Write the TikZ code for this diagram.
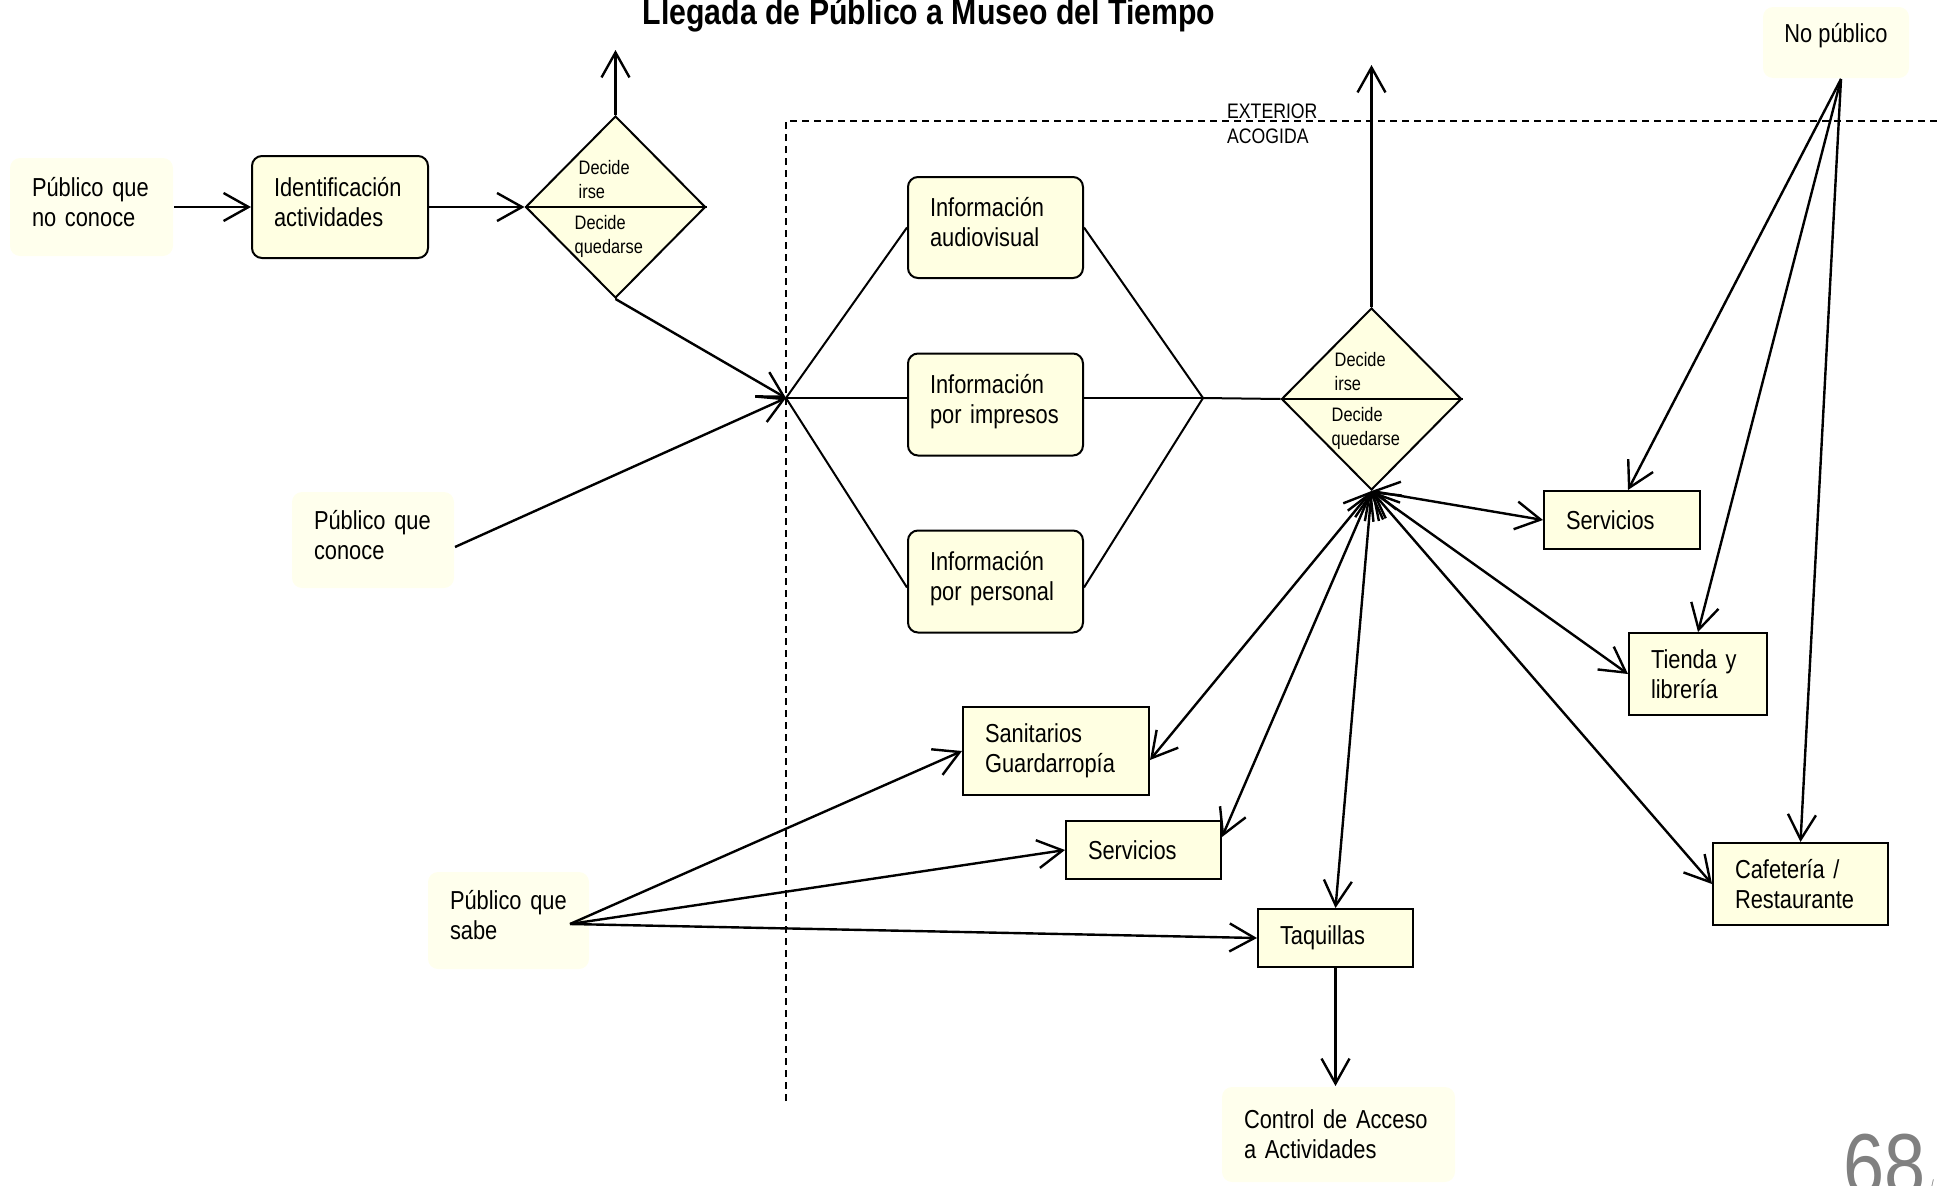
\documentclass[tikz,border=0pt]{standalone}
\usepackage{fontspec}
\setmainfont[FakeStretch=0.84]{Liberation Sans}
\usetikzlibrary{shapes.geometric,arrows.meta,calc}
\definecolor{boxfill}{RGB}{255,255,226}
\definecolor{palefill}{RGB}{255,255,237}
\tikzset{
box/.style = {draw, line width=2pt, fill=boxfill, rectangle, align=left, inner xsep=22pt, inner ysep=3pt, font=\fontsize{26}{30}\selectfont},
twoline/.style = {execute at begin node={\rule{0pt}{19pt}}, execute at end node={\rule[-11pt]{0pt}{0pt}}},
rbox/.style = {box, twoline, rounded corners=10pt},
pale/.style = {box, draw=none, fill=palefill, rounded corners=10pt},
note/.style = {pale, twoline},
decision/.style = {draw, diamond, fill=boxfill, line width=2pt, minimum width=180pt, minimum height=182pt, inner sep=0pt},
choice/.style = {anchor=north west, inner sep=0pt, align=left, font=\fontsize{19.5}{24}\selectfont},
label/.style = {anchor=base west, inner sep=0pt, font=\fontsize{21}{25}\selectfont},
tmp/.style = {coordinate},
flow/.style = {line width=2.4pt, ->},
both/.style = {line width=2.4pt, <->},
link/.style = {line width=2pt},
zone/.style = {line width=1.5pt, dash pattern=on 7pt off 5pt}
}
\begin{document}
\begin{tikzpicture}[x=1pt, y=-1pt, >={Straight Barb[length=25pt,width=28pt]}]
    \clip (0,0) rectangle (1939,1186);

    \node [anchor=base, font=\bfseries\fontsize{36}{40}\selectfont] (title) at (929,24) {Llegada de Público a Museo del Tiempo};
    \draw [zone] (786,1101) |- (1945,121);
    \node [label] (exterior) at (1227,118) {EXTERIOR};
    \node [label] (acogida) at (1227,143) {ACOGIDA};

    \node [note, text width=119pt, minimum height=98pt] (noconoce) at (91.5,207) {Público que\\no conoce};
    \node [rbox, text width=132pt, minimum height=102pt] (ident) at (340,207) {Identificación\\actividades};
    \node [decision] (d1) at (615.5,207) {};
    \draw [link] (d1.west) -- (d1.east);
    \node [choice] (d1up) at ($(d1.center)+(-37,-46.5)$) {Decide\\irse};
    \node [choice] (d1down) at ($(d1.center)+(-41,8.5)$) {Decide\\quedarse};
    \node [note, text width=118pt, minimum height=96pt] (conoce) at (373,540) {Público que\\conoce};
    \node [note, text width=117pt, minimum height=97pt] (sabe) at (508.5,920.5) {Público que\\sabe};

    \node [rbox, text width=131pt, minimum height=101pt] (av) at (995.5,227.5) {Información\\audiovisual};
    \node [rbox, text width=131pt, minimum height=102pt] (imp) at (995.5,404.5) {Información\\por impresos};
    \node [rbox, text width=131pt, minimum height=102pt] (per) at (995.5,581.5) {Información\\por personal};

    \node [decision] (d2) at (1371.5,399) {};
    \draw [link] (d2.west) -- (d2.east);
    \node [choice] (d2up) at ($(d2.center)+(-37,-46.5)$) {Decide\\irse};
    \node [choice] (d2down) at ($(d2.center)+(-40,8.5)$) {Decide\\quedarse};

    \node [pale, minimum width=146pt, minimum height=71pt, inner xsep=0pt, text depth=19pt] (nopub) at (1836,42.5) {No público};
    \node [box, text width=112pt, minimum height=58pt] (servr) at (1622,520) {Servicios};
    \node [box, text width=94pt, minimum height=82pt] (tienda) at (1698,674) {Tienda y\\librería};
    \node [box, text width=131pt, minimum height=82pt] (cafe) at (1800.5,884) {Cafetería /\\Restaurante};
    \node [box, text width=142pt, minimum height=88pt] (san) at (1056,751) {Sanitarios\\Guardarropía};
    \node [box, text width=111pt, minimum height=58pt] (servm) at (1143.5,850) {Servicios};
    \node [box, text width=111pt, minimum height=58pt] (taq) at (1335.5,938) {Taquillas};
    \node [pale, text width=189pt, minimum height=95pt] (ctrl) at (1338.5,1134.5) {Control de Acceso\\a Actividades};

    \node [anchor=base west, inner sep=0pt, text=black!50, font=\fontsize{88}{88}\selectfont] (page) at (1843,1195) {68};
    \node [anchor=base west, inner sep=0pt, text=black!50, font=\fontsize{12}{12}\selectfont] (pagemark) at (1931,1188) {/};

    \node [tmp] (exit1) at (615.5,50) {};
    \node [tmp] (exit2) at (1371.5,65) {};
    \node [tmp] (j1) at (786,398) {};
    \node [tmp] (j2) at (1203,398) {};
    \node [tmp] (conoceout) at (455,547) {};
    \node [tmp] (sabeout) at (570,924) {};
    \node [tmp] (nopubout) at (1841,79) {};

    \draw [flow] (noconoce) -- (ident);
    \draw [flow] (ident) -- (d1.west);
    \draw [flow] (d1.north) -- (exit1);
    \draw [flow] (d1.south) -- (j1);
    \draw [flow] (conoceout) -- (j1);
    \draw [link] (j1) -- (av.west);
    \draw [link] (j1) -- (imp.west |- j1);
    \draw [link] (j1) -- ($(per.west)+(0,6)$);
    \draw [link] (av.east) -- (j2);
    \draw [link] (imp.east |- j2) -- (j2);
    \draw [link] ($(per.east)+(0,6)$) -- (j2);
    \draw [link] (j2) -- (d2.west);
    \draw [flow] (d2.north) -- (exit2);
    \draw [flow] (nopubout) -- ($(servr.north)+(6,0)$);
    \draw [flow] (nopubout) -- (tienda.north);
    \draw [flow] (nopubout) -- (cafe.north);
    \draw [both] (d2.south) -- (servr.west);
    \draw [both] (d2.south) -- (tienda.west);
    \draw [both] (d2.south) -- (cafe.west);
    \draw [both] (d2.south) -- ($(san.east)+(0,9)$);
    \draw [both] (d2.south) -- ($(servm.north east)+(0,17)$);
    \draw [both] (d2.south) -- (taq.north);
    \draw [flow] (taq.south) -- (taq.south |- ctrl.north);
    \draw [flow] (sabeout) -- (san.west);
    \draw [flow] (sabeout) -- (servm.west);
    \draw [flow] (sabeout) -- (taq.west);
\end{tikzpicture}
\end{document}
